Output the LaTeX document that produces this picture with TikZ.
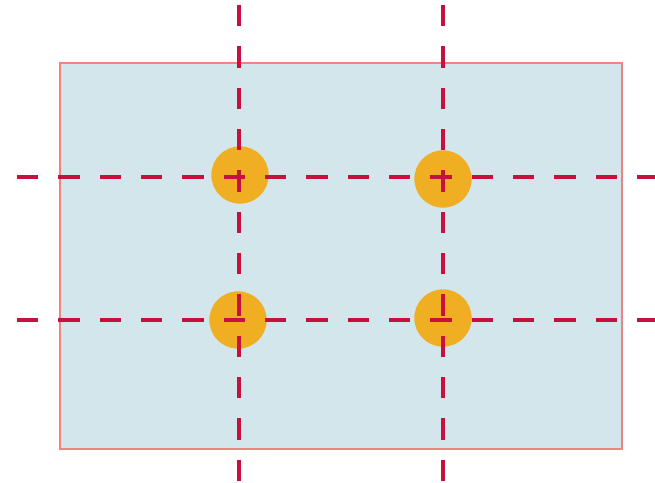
\documentclass[tikz,border=0pt]{standalone}

\definecolor{sheetblue}{RGB}{211,230,236}
\definecolor{sheetedge}{RGB}{240,130,130}
\definecolor{guidered}{RGB}{200,16,63}
\definecolor{dotorange}{RGB}{240,174,34}

\tikzset{
  guide/.style={draw=guidered, line width=3pt, dash pattern=on 16pt off 15pt},
  dot/.style={circle, fill=dotorange, minimum size=43pt, inner sep=0pt}
}

\begin{document}
\begin{tikzpicture}[x=0.75pt,y=0.75pt,yscale=-1,xscale=1]
    \useasboundingbox (0,0) rectangle (655,482);
    
    %Sheet
    \draw [draw=sheetedge, fill=sheetblue, line width=1.2pt] (60,63) rectangle (622,449) ;
    
    %Dots
    \node [dot] (dotA) at (240,175) {};
    \node [dot] (dotB) at (443,179) {};
    \node [dot] (dotC) at (238,320) {};
    \node [dot] (dotD) at (443,318) {};
    
    %Vertical guides
    \draw [guide]   (239,5) -- (239,482) ;
    \draw [guide]   (443,5) -- (443,482) ;
    %Horizontal guides
    \draw [guide]   (17,177) -- (655,177) ;
    \draw [guide]   (17,320) -- (655,320) ;
    
\end{tikzpicture}
\end{document}
